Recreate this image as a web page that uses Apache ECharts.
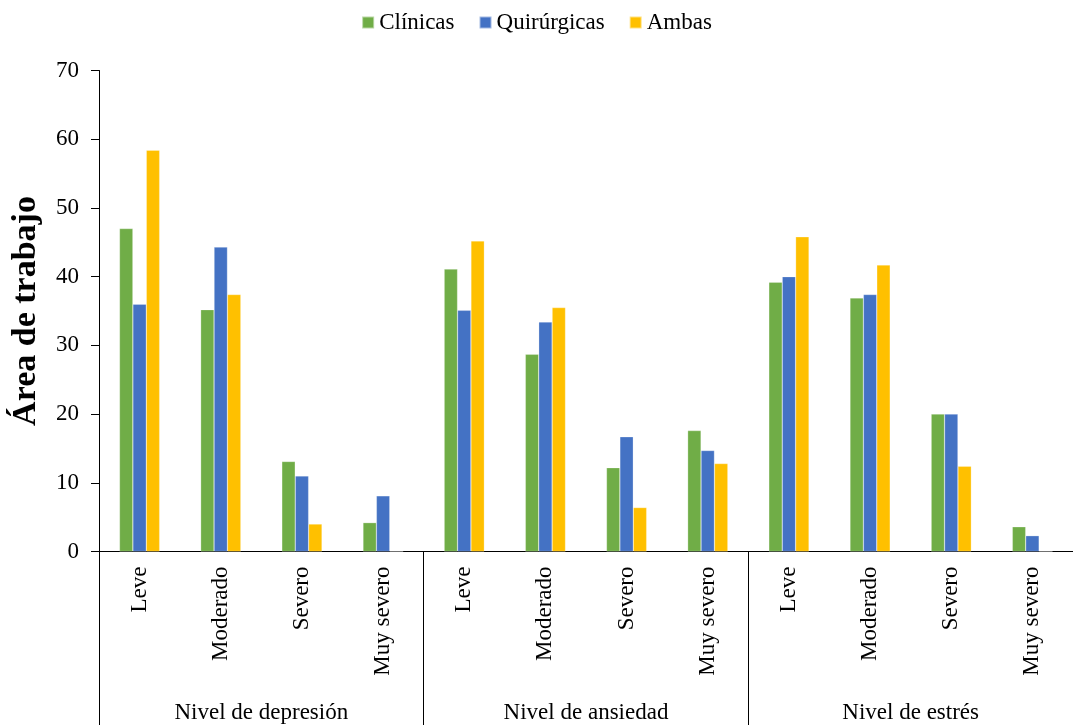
<!DOCTYPE html>
<html>
<head>
<meta charset="utf-8">
<script src="https://cdn.jsdelivr.net/npm/echarts@6/dist/echarts.min.js"></script>
<style>
  html, body { margin: 0; padding: 0; background: #fff; }
  #chart { width: 1073px; height: 725px; }
</style>
</head>
<body>
<div id="chart"></div>
<script>
// niveles dentro de cada grupo
const levels = ['Leve', 'Moderado', 'Severo', 'Muy severo'];
const groups = ['Nivel de depresión', 'Nivel de ansiedad', 'Nivel de estrés'];
const seriesNames = ['Clínicas', 'Quirúrgicas', 'Ambas'];
const colors = ['#70AD47', '#4472C4', '#FFC000'];

// valores (depresión, ansiedad, estrés)
const clinicas = [47.0, 35.2, 13.1, 4.2, 41.1, 28.7, 12.2, 17.6, 39.2, 36.9, 20.0, 3.6];
const quirurgicas = [36.0, 44.3, 11.0, 8.1, 35.1, 33.4, 16.7, 14.7, 40.0, 37.4, 20.0, 2.3];
const ambas = [58.4, 37.4, 4.0, 0, 45.2, 35.5, 6.4, 12.8, 45.8, 41.7, 12.4, 0];

const yTicks = { min: 0, max: 70, interval: 10 };

const categories = [];
groups.forEach(() => levels.forEach(l => categories.push(l)));

const font = 'Liberation Serif';
let chart = echarts.init(document.getElementById('chart'));

let mkBar = (name, data, i) => ({
  name: name,
  type: 'bar',
  xAxisIndex: 0,
  data: data,
  barWidth: 13.4,
  barGap: '0%',
  itemStyle: { color: colors[i], borderColor: 'rgba(255,255,255,0.5)', borderWidth: 0.5 }
});

chart.setOption({
  animation: false,
  textStyle: { fontFamily: font },
  legend: {
    top: 6,
    left: 'center',
    itemWidth: 12,
    itemHeight: 12,
    itemGap: 24,
    icon: 'rect',
    textStyle: { fontFamily: font, fontSize: 23, color: '#000' },
    data: seriesNames
  },
  grid: { left: 99, top: 70.5, width: 984, height: 481 },
  xAxis: [{
    type: 'category',
    data: categories,
    axisLine: { lineStyle: { color: '#000', width: 1 } },
    axisTick: { show: false },
    axisLabel: { rotate: 90, margin: 15, fontSize: 23, color: '#000', fontFamily: font, interval: 0 }
  }, {
    type: 'category',
    data: groups,
    position: 'bottom',
    axisLine: { show: false },
    axisTick: { show: true, length: 175, lineStyle: { color: '#000', width: 1 } },
    axisLabel: { margin: 150, fontSize: 23, color: '#000', fontFamily: font, interval: 0 }
  }],
  yAxis: {
    type: 'value',
    min: yTicks.min,
    max: yTicks.max,
    interval: yTicks.interval,
    name: 'Área de trabajo',
    nameLocation: 'middle',
    nameGap: 56,
    nameTextStyle: { fontFamily: font, fontSize: 34, fontWeight: 'bold', color: '#000' },
    splitLine: { show: false },
    axisLine: { show: true, lineStyle: { color: '#000', width: 1 } },
    axisTick: { show: true, length: 8, lineStyle: { color: '#000' } },
    axisLabel: { fontSize: 23, color: '#000', fontFamily: font, margin: 20 }
  },
  series: [
    mkBar(seriesNames[0], clinicas, 0),
    mkBar(seriesNames[1], quirurgicas, 1),
    mkBar(seriesNames[2], ambas, 2)
  ]
});
</script>
</body>
</html>
